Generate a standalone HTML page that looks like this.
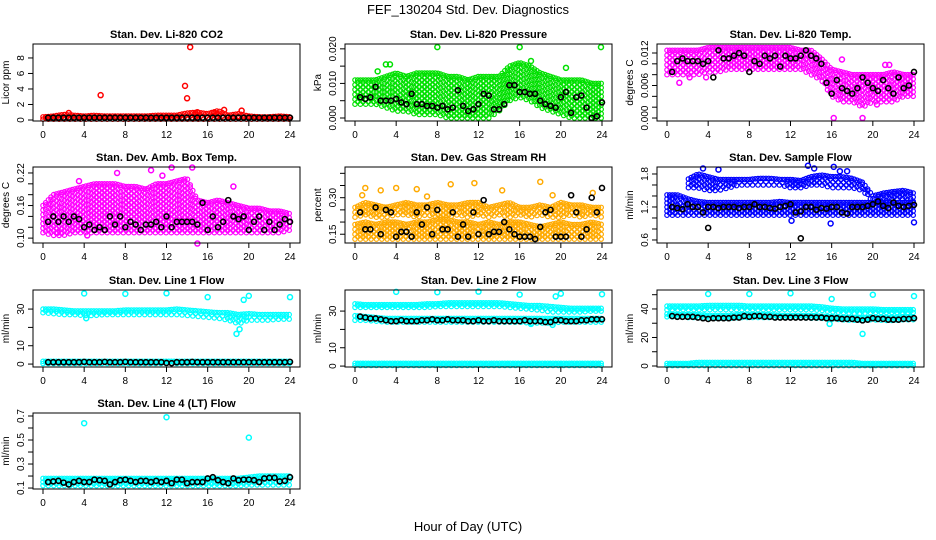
<!DOCTYPE html>
<html><head><meta charset="utf-8"><style>
html,body{margin:0;padding:0;background:#fff;width:936px;height:540px;overflow:hidden}
svg{display:block;font-family:"Liberation Sans",Arial,sans-serif}
</style></head><body>
<svg id="chart" width="936" height="540" viewBox="0 0 936 540" xmlns="http://www.w3.org/2000/svg">
<rect width="936" height="540" fill="#fff"/>
<text x="468" y="14" font-size="13" text-anchor="middle">FEF_130204  Std. Dev. Diagnostics</text>
<text x="468" y="531" font-size="13" text-anchor="middle">Hour of Day (UTC)</text>
</svg>
<script>
// ---- shared x categories ----
const bandHours = [0,1,2,3,4,5,6,7,8,9,10,11,12,13,14,15,16,17,18,19,20,21,22,23,24];
const blackHours = [0.5,1,1.5,2,2.5,3,3.5,4,4.5,5,5.5,6,6.5,7,7.5,8,8.5,9,9.5,10,10.5,11,11.5,12,12.5,13,13.5,14,14.5,15,15.5,16,16.5,17,17.5,18,18.5,19,19.5,20,20.5,21,21.5,22,22.5,23,23.5,24];
const xTicks = [0,4,8,12,16,20,24];

// ---- CO2 ----
const co2Lo = [0.1,0.1,0.1,0.1,0.1,0.1,0.1,0.1,0.1,0.1,0.1,0.1,0.1,0.1,0.1,0.1,0.1,0.1,0.1,0.1,0.1,0.1,0.1,0.1,0.1];
const co2Hi = [0.4,0.5,0.7,0.6,0.5,0.6,0.5,0.5,0.5,0.5,0.5,0.6,0.6,0.6,0.9,1.0,0.8,1.2,0.6,0.8,0.5,0.4,0.4,0.5,0.4];
const co2OutX = [5.6,13.8,14.0,14.3,2.5,19.3,17.6,15.0,16.6];
const co2OutY = [3.2,4.4,2.8,9.4,0.9,1.2,1.3,1.0,0.9];
const co2Black = [0.3,0.3,0.3,0.3,0.3,0.3,0.3,0.3,0.3,0.3,0.3,0.3,0.3,0.3,0.3,0.3,0.3,0.3,0.3,0.3,0.3,0.3,0.3,0.3,0.3,0.3,0.3,0.3,0.3,0.3,0.3,0.3,0.3,0.3,0.3,0.3,0.3,0.3,0.3,0.3,0.3,0.3,0.3,0.3,0.3,0.3,0.3,0.3];
const co2Ticks = [0,2,4,6,8];
const co2Labels = ["0","2","4","6","8"];

// ---- Pressure ----
const presLo = [0.004,0.004,0.004,0.003,0.002,0.002,0.001,0.001,0.001,0,0,0,0,0,0.002,0.005,0.006,0.005,0.003,0.002,0.001,0,0,0,0];
const presHi = [0.011,0.011,0.011,0.012,0.013,0.012,0.013,0.013,0.013,0.012,0.012,0.011,0.012,0.012,0.012,0.015,0.016,0.015,0.013,0.012,0.011,0.011,0.011,0.010,0.010];
const presOutX = [8,16,23.9,20.5,2.2,3.0,3.4,17.1];
const presOutY = [0.0205,0.0205,0.0205,0.0145,0.0135,0.0155,0.0155,0.0165];
const presBlack = [0.006,0.0055,0.006,0.009,0.005,0.005,0.005,0.0055,0.0045,0.004,0.007,0.004,0.004,0.0035,0.0035,0.003,0.0035,0.0025,0.003,0.008,0.0035,0.002,0.0025,0.004,0.007,0.0065,0.0025,0.0025,0.004,0.0095,0.0095,0.0075,0.0075,0.007,0.007,0.005,0.004,0.0035,0.003,0.006,0.0075,0.0015,0.006,0.0065,0.003,0,0.0005,0.0045];
const presTicks = [0,0.005,0.01,0.015,0.02];
const presLabels = ["0.000","","0.010","","0.020"];

// ---- Li-820 Temp ----
const tempLo = [0.008,0.008,0.008,0.008,0.0085,0.0085,0.009,0.009,0.009,0.009,0.009,0.009,0.009,0.009,0.008,0.007,0.004,0.003,0.003,0.002,0.003,0.003,0.003,0.004,0.004];
const tempHi = [0.0125,0.0125,0.0125,0.0125,0.013,0.013,0.013,0.013,0.013,0.013,0.013,0.013,0.013,0.0125,0.0125,0.011,0.009,0.0085,0.008,0.008,0.008,0.008,0.0085,0.008,0.008];
const tempOutX = [16.2,19,1.2,2.2,3.8,17,21.2,21.6,20.4];
const tempOutY = [0,0,0.0065,0.0075,0.0075,0.0108,0.0098,0.0098,0.0025];
const tempBlack = [0.0085,0.0105,0.011,0.0105,0.0105,0.0105,0.01,0.0105,0.0075,0.0125,0.011,0.011,0.0115,0.012,0.0115,0.0085,0.0105,0.01,0.0115,0.011,0.0115,0.0095,0.0115,0.011,0.011,0.0115,0.0125,0.0115,0.011,0.01,0.0065,0.0045,0.007,0.0055,0.005,0.0045,0.0055,0.0075,0.0065,0.0055,0.005,0.007,0.0055,0.0045,0.0075,0.0055,0.006,0.0085];
const tempTicks = [0,0.002,0.004,0.006,0.008,0.01,0.012];
const tempLabels = ["0.000","","","0.006","","","0.012"];

// ---- Amb Box Temp ----
const ambLo = [0.11,0.105,0.105,0.11,0.11,0.11,0.11,0.11,0.11,0.11,0.11,0.11,0.11,0.11,0.11,0.11,0.11,0.11,0.11,0.11,0.11,0.11,0.11,0.11,0.115];
const ambHi = [0.16,0.18,0.185,0.19,0.195,0.2,0.2,0.2,0.195,0.195,0.19,0.2,0.2,0.205,0.21,0.17,0.165,0.17,0.165,0.16,0.155,0.155,0.15,0.15,0.145];
const ambOutX = [3.5,7.2,14.5,12.5,15,18.5,10.5,11.6,1.4,4.3];
const ambOutY = [0.205,0.22,0.23,0.23,0.09,0.195,0.225,0.215,0.11,0.105];
const ambBlack = [0.13,0.14,0.13,0.14,0.13,0.14,0.135,0.12,0.125,0.115,0.12,0.115,0.14,0.125,0.14,0.12,0.13,0.125,0.115,0.125,0.125,0.13,0.12,0.14,0.12,0.13,0.13,0.13,0.13,0.125,0.165,0.115,0.14,0.12,0.13,0.17,0.14,0.135,0.14,0.115,0.13,0.14,0.115,0.13,0.115,0.125,0.135,0.13];
const ambTicks = [0.10,0.12,0.14,0.16,0.18,0.20,0.22];
const ambLabels = ["0.10","","","0.16","","","0.22"];

// ---- Gas Stream RH ----
const rhLo = [0.13,0.13,0.13,0.13,0.13,0.13,0.13,0.13,0.13,0.13,0.13,0.13,0.13,0.13,0.13,0.13,0.13,0.13,0.13,0.13,0.13,0.13,0.13,0.13,0.13];
const rhHi = [0.19,0.2,0.19,0.2,0.2,0.19,0.2,0.2,0.21,0.21,0.2,0.2,0.19,0.2,0.19,0.2,0.2,0.19,0.18,0.19,0.2,0.19,0.19,0.2,0.19];
const rhUpLo = [0.22,0.23,0.22,0.22,0.23,0.23,0.22,0.23,0.22,0.22,0.23,0.22,0.23,0.22,0.23,0.22,0.23,0.22,0.23,0.22,0.22,0.23,0.22,0.23,0.22];
const rhUpHi = [0.26,0.28,0.27,0.26,0.27,0.28,0.27,0.27,0.28,0.27,0.27,0.28,0.28,0.26,0.27,0.28,0.26,0.26,0.27,0.26,0.28,0.27,0.27,0.26,0.26];
const rhOutX = [1.0,2.5,4.0,6.0,9.3,11.6,14.3,18.0,19.2,23.1,0.7,7.0];
const rhOutY = [0.34,0.33,0.34,0.335,0.355,0.36,0.33,0.365,0.31,0.32,0.31,0.305];
const rhBlack = [0.24,0.17,0.17,0.26,0.15,0.25,0.24,0.14,0.16,0.16,0.14,0.24,0.19,0.26,0.15,0.25,0.17,0.17,0.24,0.14,0.19,0.14,0.24,0.15,0.29,0.15,0.16,0.16,0.2,0.17,0.15,0.14,0.14,0.14,0.13,0.18,0.24,0.25,0.14,0.14,0.14,0.31,0.24,0.14,0.17,0.3,0.24,0.34];
const rhTicks = [0.15,0.20,0.25,0.30,0.35,0.40];
const rhLabels = ["0.15","","","0.30","",""];

// ---- Sample Flow ----
const flowLo = [1.05,1.05,1.05,1.05,1.05,1.05,1.05,1.05,1.05,1.05,1.05,1.05,1.05,1.05,1.05,1.05,1.05,1.05,1.05,1.05,1.05,1.05,1.05,1.05,1.05];
const flowHi = [1.42,1.42,1.35,1.3,1.28,1.28,1.28,1.28,1.28,1.28,1.28,1.3,1.28,1.28,1.28,1.28,1.28,1.28,1.28,1.28,1.28,1.28,1.28,1.28,1.28];
const flowUpLo = [null,null,1.55,1.55,1.5,1.5,1.55,1.6,1.6,1.6,1.6,1.6,1.55,1.55,1.6,1.6,1.55,1.55,1.55,1.5,1.3,1.3,1.35,1.35,1.3];
const flowUpHi = [null,null,1.7,1.8,1.75,1.7,1.7,1.7,1.7,1.72,1.72,1.7,1.7,1.68,1.75,1.78,1.75,1.75,1.72,1.65,1.4,1.45,1.48,1.5,1.45];
const flowOutX = [3.5,5.0,13.7,14.3,16.2,16.8,17.5,24.0,15.9,12.1];
const flowOutY = [1.9,1.88,1.95,1.9,1.93,1.85,1.85,0.92,0.9,0.95];
const flowBlack = [1.2,1.18,1.16,1.25,1.2,1.2,1.1,1.2,1.2,1.18,1.2,1.2,1.2,1.18,1.2,1.2,1.25,1.2,1.2,1.18,1.17,1.2,1.22,1.25,1.1,1.12,1.2,1.2,1.15,1.18,1.17,1.2,1.2,1.1,1.08,1.2,1.2,1.2,1.22,1.25,1.3,1.22,1.18,1.28,1.22,1.2,1.22,1.24];
const flowBlackOutX = [4,13];
const flowBlackOutY = [0.82,0.63];
const flowTicks = [0.6,0.8,1.0,1.2,1.4,1.6,1.8];
const flowLabels = ["0.6","","","1.2","","","1.8"];

// ---- Line 1 Flow ----
const l1Lo = [28,27.5,27,27,26.5,26.5,27,27,27,27,27,27,27,27,26.5,26,25.5,25,24,22,24,24,24,24.5,24.5];
const l1Hi = [30,30,29.5,29,29,29,29,29,29.5,29.5,29.5,29.5,29.5,30,29.5,29,28.5,28,28,27,27.5,27,27,27,27];
const l1BotLo = [0.3,0.3,0.3,0.3,0.3,0.3,0.3,0.3,0.3,0.3,0.3,0.3,0.3,0.3,0.3,0.3,0.3,0.3,0.3,0.3,0.3,0.3,0.3,0.3,0.3];
const l1BotHi = [1.5,1.5,1.5,1.5,1.5,1.5,1.5,1.5,1.5,1.5,1.5,1.5,1.5,1.5,1.5,1.5,1.5,1.5,1.5,1.5,1.5,1.5,1.5,1.5,1.5];
const l1OutX = [4,8,12,16,19.5,20,24,18.8,19.1,4.2];
const l1OutY = [38.5,38.3,38.6,36.5,35,37.2,36.5,16.5,19,25];
const l1Black = [1,1,1,1,1,1,1,1.2,1,1,1,1.2,1,1,1,1.2,1,1,1,1,1,1,1,0.6,0.5,1,1,1,1.2,1,1,1,1,1,1,1,1,1,1,1,1,1,1,1,1,1,1,1.2];
const l1Ticks = [0,10,20,30];
const l1Labels = ["0","10","","30"];

// ---- Line 2 Flow ----
const l2Lo = [32,32,32,32,32,32,32,32,32.5,32.5,32.5,32.5,32.5,32.5,32.5,32,31.5,31,30.5,29.5,29.5,29.5,29.5,30,30];
const l2Hi = [34,33.5,33.5,33.5,33.5,33.5,33.5,34,34,34.5,34.5,34.5,34.5,34.5,34.5,34,33.5,33,33,32.5,32,31.5,31.5,31.5,31.5];
const l2MidLo = [25,25,24.5,24,24,24,24,24,24,24,24,24,24,24,24,24,24,23.5,23.5,23.5,24,24,24,24,24];
const l2MidHi = [27.5,27,26.5,26,26,26,26,26,26,26,26,26,26,26,26,26,26,26,26,26,26,26,26,26,26];
const l2BotLo = [0.3,0.3,0.3,0.3,0.3,0.3,0.3,0.3,0.3,0.3,0.3,0.3,0.3,0.3,0.3,0.3,0.3,0.3,0.3,0.3,0.3,0.3,0.3,0.3,0.3];
const l2BotHi = [1.5,1.5,1.5,1.5,1.5,1.5,1.5,1.5,1.5,1.5,1.5,1.5,1.5,1.5,1.5,1.5,1.5,1.5,1.5,1.5,1.5,1.5,1.5,1.5,1.5];
const l2OutX = [4,8,12,16,19.5,20,24,19.2,17.1];
const l2OutY = [40.5,40.3,40.6,39,38,39.5,39.2,22.5,23];
const l2Black = [27,26.5,26,26,25.5,25,24.5,24.5,25,24.5,24.5,24.5,25,25,25.5,25,25,25.5,25,25,25,24.5,24.5,25,24.5,24.5,25,24.5,24.5,24.5,24.5,24.5,25,24.5,24.5,24.5,24,24,25,25,24.5,24.5,24.5,25,25,25.5,25.5,25.5];
const l2Ticks = [0,10,20,30];
const l2Labels = ["0","10","","30"];

// ---- Line 3 Flow ----
const l3Lo = [39.5,39.5,39.5,39.5,39.5,39.5,39.5,39.5,39.5,39.5,39.5,39.5,39.5,39.5,39.5,39,38,37.5,37,37,37.5,37.5,37.5,37.5,37.5];
const l3Hi = [42,42,42,42,42.5,42.5,42.5,42.5,42,42,42,42,42,42,42,41.5,40.5,40,40,40,40,39.5,39.5,39.5,39.5];
const l3MidLo = [34.5,34.5,34,34,33.5,33.5,33.5,34,34,34,34,34,34,34,33.5,33.5,33,32.5,32,32.5,32.5,32,32,32.5,32.5];
const l3MidHi = [36.5,36,36,36,35.5,35.5,35.5,36,36,36,36,35.5,35.5,35.5,35.5,35,34.5,34,34,34,34,34,34,34.5,34.5];
const l3BotLo = [0.3,0.3,0.3,0.3,0.3,0.3,0.3,0.3,0.3,0.3,0.3,0.3,0.3,0.3,0.3,0.3,0.3,0.3,0.3,0.3,0.3,0.3,0.3,0.3,0.3];
const l3BotHi = [1.8,1.8,1.8,2.5,2.5,2.5,2.5,2.5,2.5,2.5,2.5,2.5,2.5,2.5,2.5,2.5,2.5,2.5,2.5,1.8,1.8,1.8,1.8,1.8,1.8];
const l3OutX = [4,8,12,16,20,24,19,15.8];
const l3OutY = [50.5,50.5,51,47,50,49,22.5,29.5];
const l3Black = [35,34.5,34.5,34.5,34.5,34,33.5,33,33.5,33.5,33.5,33.5,34,34,35,34.5,35,35,34.5,34.5,34,34,34,34,34,34,34,34,34,34,33.5,33.5,33.5,33,33,33,32.5,32,32.5,33.5,33,33,32.5,32.5,32.5,33,33,33.5];
const l3Ticks = [0,10,20,30,40,50];
const l3Labels = ["0","","20","","40",""];

// ---- Line 4 Flow ----
const l4Lo = [0.12,0.12,0.12,0.12,0.12,0.12,0.12,0.12,0.12,0.12,0.12,0.12,0.12,0.12,0.12,0.12,0.12,0.12,0.12,0.12,0.125,0.125,0.125,0.125,0.125];
const l4Hi = [0.18,0.18,0.18,0.18,0.18,0.18,0.18,0.18,0.18,0.18,0.18,0.18,0.18,0.18,0.18,0.18,0.18,0.18,0.18,0.18,0.19,0.2,0.2,0.2,0.2];
const l4OutX = [4,12,20];
const l4OutY = [0.64,0.69,0.52];
const l4Black = [0.15,0.155,0.16,0.145,0.13,0.15,0.16,0.15,0.15,0.17,0.165,0.16,0.13,0.15,0.165,0.17,0.16,0.15,0.16,0.16,0.15,0.16,0.15,0.16,0.14,0.17,0.17,0.14,0.15,0.15,0.15,0.18,0.19,0.165,0.15,0.14,0.18,0.165,0.17,0.17,0.165,0.15,0.18,0.185,0.185,0.155,0.16,0.19];
const l4Ticks = [0.1,0.2,0.3,0.4,0.5,0.6,0.7];
const l4Labels = ["0.1","","0.3","","0.5","","0.7"];

// ---- layout (not data) ----
const rowTop = [44,167,290,413], rowBot = [121,243,367,489];
const colL = [33,345,657], colR = [300,612,924];
const NS = "http://www.w3.org/2000/svg";
const svg = document.getElementById('chart');
function mk(tag, attrs, parent){
  const e = document.createElementNS(NS, tag);
  for (const k in attrs) e.setAttribute(k, attrs[k]);
  (parent||svg).appendChild(e);
  return e;
}
function lerp(arr, h){
  const i = Math.min(23, Math.floor(h)), j = i+1, f = h - i;
  if (arr[i]==null || arr[j]==null) return null;
  return arr[i] + (arr[j]-arr[i])*f;
}

function panel(cfg){
  const L = colL[cfg.col], R = colR[cfg.col], T = rowTop[cfg.row], B = rowBot[cfg.row];
  const x0 = L + 10, xw = 247;
  const sx = h => x0 + h/24*xw;
  const sy = v => B - (v - cfg.ymin)/(cfg.ymax - cfg.ymin)*(B - T);
  const g = mk('g', {});
  
  
  const ttl = mk('text', {x:(L+R)/2, y:T-6, 'font-size':11, 'font-weight':'bold', 'text-anchor':'middle'}, g);
  ttl.textContent = cfg.title;
  
  
  const clip = mk('g', {}, g);
  // bands (lattice of open circles with gaps, like overplotted points)
  (cfg.bands||[]).forEach(b => {
    let col = 0;
    for (let h = 0; h <= 24.001; h += 0.26, col++) {
      const hh = Math.min(h,24);
      const lo = lerp(b[0], hh), hi = lerp(b[1], hh);
      if (lo==null || hi==null) continue;
      const y1 = sy(lo), y2 = sy(hi);
      const n = Math.max(1, Math.round((y1-y2)/4.5));
      const off = (col % 2) ? 0.5 : 0;
      for (let k = 0; k <= n; k++) {
        const kk = Math.min(n, k + off);
        const c = mk('circle', {cx:sx(hh).toFixed(1), cy:(y1 + (y2-y1)*kk/n).toFixed(1), r:2.2, fill:'none', stroke:cfg.color, 'stroke-width':1.2}, clip);
        
        
      }
    }
  });
  // outliers
  (cfg.outX||[]).forEach((x,i) => {
    const c = mk('circle', {cx:sx(x), cy:sy(cfg.outY[i]), r:2.5, fill:'none', stroke:cfg.color, 'stroke-width':1.5}, clip);
    
    
  });
  // black
  (cfg.black||[]).forEach((v,i) => {
    const c = mk('circle', {cx:sx(blackHours[i]), cy:sy(v), r:2.5, fill:'none', stroke:'#000', 'stroke-width':1.6}, clip);
    
    
  });
  (cfg.blackOutX||[]).forEach((x,i) => {
    const c = mk('circle', {cx:sx(x), cy:sy(cfg.blackOutY[i]), r:2.5, fill:'none', stroke:'#000', 'stroke-width':1.6}, clip);
    
    
  });
  // box
  const bx = mk('rect', {x:L, y:T, width:R-L, height:B-T, fill:'none', stroke:'#000', 'stroke-width':1}, g);
  
  
  // x axis
  xTicks.forEach(t => {
    mk('line', {x1:sx(t), x2:sx(t), y1:B, y2:B+5, stroke:'#000'}, g);
    const tx = mk('text', {x:sx(t), y:B+17, 'font-size':10, 'text-anchor':'middle'}, g);
    tx.textContent = t;
    
    
  });
  // y axis
  cfg.ticks.forEach((t,i) => {
    const y = sy(t);
    mk('line', {x1:L, x2:L-5, y1:y, y2:y, stroke:'#000'}, g);
    if (cfg.labels[i]) {
      const ty = mk('text', {x:L-9, y:y, 'font-size':10, 'text-anchor':'middle', transform:`rotate(-90 ${L-9} ${y})`}, g);
      ty.textContent = cfg.labels[i];
      
      
    }
  });
  const yc = (T+B)/2, yx = L-24;
  const yt = mk('text', {x:yx, y:yc, 'font-size':10, 'text-anchor':'middle', transform:`rotate(-90 ${yx} ${yc})`}, g);
  yt.textContent = cfg.ylab;
  
  
}

panel({name:'co2-panel', title:'Stan. Dev. Li-820 CO2', row:0, col:0, ymin:-0.13, ymax:9.8, ylab:'Licor ppm', color:'#ff0000',
  bands:[[co2Lo,co2Hi]], outX:co2OutX, outY:co2OutY, black:co2Black, ticks:co2Ticks, labels:co2Labels});
panel({name:'pressure-panel', title:'Stan. Dev. Li-820 Pressure', row:0, col:1, ymin:-0.00087, ymax:0.0214, ylab:'kPa', color:'#00e000',
  bands:[[presLo,presHi]], outX:presOutX, outY:presOutY, black:presBlack, ticks:presTicks, labels:presLabels});
panel({name:'li820-temp-panel', title:'Stan. Dev. Li-820 Temp.', row:0, col:2, ymin:-0.00055, ymax:0.01366, ylab:'degrees C', color:'#ff00ff',
  bands:[[tempLo,tempHi]], outX:tempOutX, outY:tempOutY, black:tempBlack, ticks:tempTicks, labels:tempLabels});
panel({name:'amb-temp-panel', title:'Stan. Dev. Amb. Box Temp.', row:1, col:0, ymin:0.091, ymax:0.231, ylab:'degrees C', color:'#ff00ff',
  bands:[[ambLo,ambHi]], outX:ambOutX, outY:ambOutY, black:ambBlack, ticks:ambTicks, labels:ambLabels});
panel({name:'rh-panel', title:'Stan. Dev. Gas Stream RH', row:1, col:1, ymin:0.114, ymax:0.426, ylab:'percent', color:'#ffaa00',
  bands:[[rhLo,rhHi],[rhUpLo,rhUpHi]], outX:rhOutX, outY:rhOutY, black:rhBlack, ticks:rhTicks, labels:rhLabels});
panel({name:'sample-flow-panel', title:'Stan. Dev. Sample Flow', row:1, col:2, ymin:0.545, ymax:1.927, ylab:'ml/min', color:'#0000ff',
  bands:[[flowLo,flowHi],[flowUpLo,flowUpHi]], outX:flowOutX, outY:flowOutY, black:flowBlack, blackOutX:flowBlackOutX, blackOutY:flowBlackOutY, ticks:flowTicks, labels:flowLabels});
panel({name:'line1-panel', title:'Stan. Dev. Line 1 Flow', row:2, col:0, ymin:-1.6, ymax:40.4, ylab:'ml/min', color:'#00ffff',
  bands:[[l1Lo,l1Hi],[l1BotLo,l1BotHi]], outX:l1OutX, outY:l1OutY, black:l1Black, ticks:l1Ticks, labels:l1Labels});
panel({name:'line2-panel', title:'Stan. Dev. Line 2 Flow', row:2, col:1, ymin:-0.5, ymax:41.5, ylab:'ml/min', color:'#00ffff',
  bands:[[l2Lo,l2Hi],[l2MidLo,l2MidHi],[l2BotLo,l2BotHi]], outX:l2OutX, outY:l2OutY, black:l2Black, ticks:l2Ticks, labels:l2Labels});
panel({name:'line3-panel', title:'Stan. Dev. Line 3 Flow', row:2, col:2, ymin:-0.7, ymax:53.3, ylab:'ml/min', color:'#00ffff',
  bands:[[l3Lo,l3Hi],[l3MidLo,l3MidHi],[l3BotLo,l3BotHi]], outX:l3OutX, outY:l3OutY, black:l3Black, ticks:l3Ticks, labels:l3Labels});
panel({name:'line4-panel', title:'Stan. Dev. Line 4 (LT) Flow', row:3, col:0, ymin:0.092, ymax:0.725, ylab:'ml/min', color:'#00ffff',
  bands:[[l4Lo,l4Hi]], outX:l4OutX, outY:l4OutY, black:l4Black, ticks:l4Ticks, labels:l4Labels});
</script>
</body></html>
